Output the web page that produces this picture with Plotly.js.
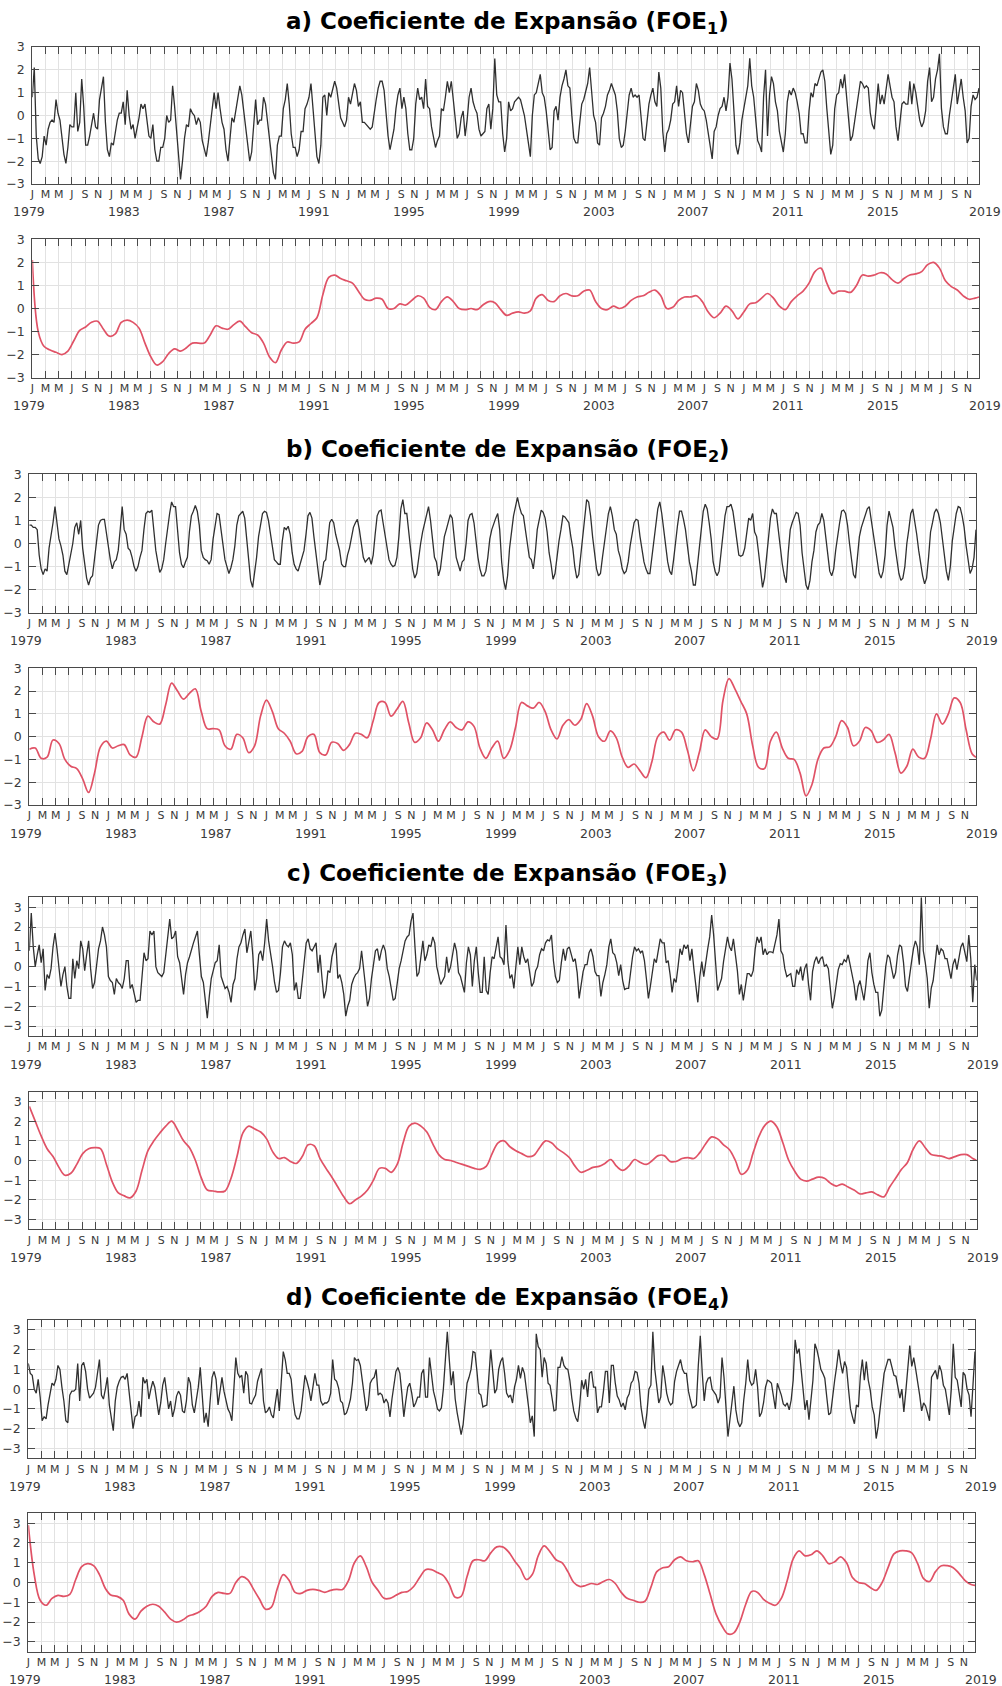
<!DOCTYPE html>
<html><head><meta charset="utf-8">
<script src="https://cdn.plot.ly/plotly-3.0.1.min.js"></script>
<style>html,body{margin:0;padding:0;background:#fff}#chart{width:1002px;height:1686px}</style>
</head><body><div id="chart"></div>
<script>
// ---------- labels ----------
const monthLetters = ['J','M','M','J','S','N'];
const yearLabels = ['1979','1983','1987','1991','1995','1999','2003','2007','2011','2015','2019'];
const titles = [
  'a) Coeficiente de Expansão (FOE<sub>1</sub>)',
  'b) Coeficiente de Expansão (FOE<sub>2</sub>)',
  'c) Coeficiente de Expansão (FOE<sub>3</sub>)',
  'd) Coeficiente de Expansão (FOE<sub>4</sub>)'
];
const yTicks = [-3,-2,-1,0,1,2,3];

// ---------- monthly expansion coefficients, Jan 1979 .. Dec 2018 ----------
const foe1 = [
 0.8, 2.1,-0.9,-1.9,-2.1,-1.8,-0.9,-1.3,-0.6,-0.3,-0.2,-0.3,
 0.7, 0.1,-0.2,-1.0,-1.7,-2.1,-1.4,-0.4,-0.5,-0.5, 1.0,-0.7,
-0.3, 1.6, 0.4,-1.3,-1.3,-0.9,-0.3, 0.1,-0.5,-0.6, 0.7, 1.3,
 1.7,-0.3,-1.5,-1.8,-1.2,-1.3,-0.7,-0.2, 0.1, 0.1, 0.6,-0.4,
 1.1, 0.0,-0.6,-0.4,-1.0,-0.6,-0.1, 0.5, 0.3, 0.5,-0.1,-0.9,
-1.0,-0.4,-1.5,-2.0,-2.0,-1.4,-1.4,-1.0, 0.0,-0.3,-0.2, 1.3,
 0.4,-0.6,-1.5,-2.8,-2.0,-1.0,-0.4,-0.5, 0.3, 0.1, 0.0,-0.4,
-0.1,-0.3,-1.1,-1.5,-1.8,-1.2,-0.4, 0.5, 1.0, 0.3, 1.0, 0.3,
-0.3,-0.6,-1.5,-2.0,-0.9,-0.1,-0.3, 0.3, 0.8, 1.3, 0.9, 0.2,
-0.6,-1.3,-2.0,-1.6,-0.2, 0.7,-0.4,-0.2,-0.2, 0.8, 0.5,-0.3,
-0.9,-2.0,-2.5,-2.8,-1.3,-0.9,-0.9, 0.3, 0.7, 1.4, 0.5,-0.8,
-1.4,-1.4,-1.8,-1.5,-0.7,-0.7, 0.3, 0.5, 0.8, 1.4, 0.3,-0.5,
-1.8,-2.1,-1.3, 0.8, 0.9, 0.0, 1.0, 0.8, 1.1, 1.5, 1.2, 0.6,
-0.1,-0.3,-0.5,-0.2, 0.8, 0.5, 0.9, 1.4, 1.1, 0.4, 0.6,-0.3,
-0.3,-0.4,-0.5,-0.6,-0.5, 0.2, 0.7, 1.2, 1.5, 1.5, 1.1, 0.1,
-0.9,-1.5,-1.1,-0.6, 0.3, 0.9, 1.2, 0.3, 0.8, 0.3,-0.8,-1.5,
-1.5,-1.0, 0.5, 1.2, 0.7, 0.8, 0.3, 1.6, 0.4, 0.3,-0.5,-1.0,
-1.4,-1.1,-0.9, 0.3, 0.2, 0.8, 1.5, 1.0, 1.5, 0.7,-0.3,-1.0,
-0.8,-0.1, 0.2,-0.9,-0.2, 0.8, 1.2, 0.6, 0.3, 0.1,-0.6,-0.9,
-0.8,-0.7, 0.3, 0.5,-0.6, 0.3, 2.5, 0.9, 0.6, 0.6,-0.8,-1.6,
-1.0, 0.6, 0.2, 0.3, 0.6, 0.7, 0.8, 0.7, 0.3, 0.0,-0.6,-1.3,
-1.8, 0.0, 0.9, 1.0, 1.4, 1.8, 1.0, 0.8, 0.2,-0.7,-1.5,-1.4,
 0.2, 0.4,-0.2, 0.8, 1.3, 1.6, 2.0, 1.3, 1.2, 0.0,-1.0,-1.2,
-1.2,-0.3, 0.5, 0.7, 1.0, 1.4, 2.1, 1.2, 0.0,-0.3,-1.2,-1.3,
-0.1, 0.1, 0.4, 0.9, 1.1, 1.4, 1.1, 0.9, 0.2,-1.0,-1.4,-1.3,
-0.7, 0.2, 0.9, 1.2, 0.8, 0.9, 0.8, 0.9,-0.2,-1.0,-1.1,-0.2,
 0.5, 0.9, 1.2, 0.6, 0.4, 1.9, 1.2,-0.7,-1.6,-0.8,-0.6,-0.2,
 0.5, 0.6, 1.3, 0.4, 1.1, 1.0, 0.2,-0.8,-1.2,-0.3, 0.4, 0.6,
 1.4, 1.1, 0.5, 0.3, 0.2,-0.2,-0.8,-1.5,-1.9,-0.7,-0.5, 0.0,
 0.3, 0.4, 0.8, 0.2, 0.8, 2.3, 1.6, 0.2,-1.3,-1.7,-1.2,-0.2,
 0.3, 0.7, 1.3, 2.5, 1.3, 0.8,-0.2,-1.1,-1.3,-1.6, 0.8, 2.0,
-0.9, 0.9, 1.7, 1.4, 0.6, 0.2,-0.7,-1.1,-1.6,-0.8, 0.6, 1.1,
 0.9, 1.2, 1.0, 0.6, 0.1,-0.8,-0.8,-1.2,-1.2, 0.2, 1.0, 0.8,
 1.4, 1.3, 1.6, 1.9, 2.0, 1.5, 0.3,-0.8,-1.7,-1.3, 0.3, 0.9,
 1.0, 1.6, 1.2, 1.8, 0.9,-0.1,-1.1,-0.9,-0.3, 0.3, 0.7, 1.5,
 1.4, 1.2, 1.3, 1.2, 0.1,-0.4,-0.6, 0.4, 1.4, 0.5, 0.9, 0.5,
 1.2, 1.8, 1.3, 0.8, 0.6,-0.5,-1.1,-0.3, 0.5, 0.6, 0.5, 0.5,
 1.5, 0.5, 1.4, 1.0, 0.3,-0.2,-0.5,-0.3, 0.2, 1.5, 2.1, 0.6,
 0.8, 1.6, 2.0, 2.7, 0.3,-0.5,-0.8,-0.8, 0.0, 0.6, 1.0, 1.8,
 0.5, 1.0, 1.6, 0.8, 0.2,-1.2,-1.0, 0.4, 0.9, 0.7, 0.8, 1.2
];
const foe2 = [
 0.8, 0.8, 0.7, 0.7, 0.6,-0.5,-1.1,-1.35,-1.1,-1.2,-0.2, 0.3,
 0.9, 1.6, 0.9, 0.2,-0.1,-0.5,-1.2,-1.35,-0.9,-0.5, 0.0, 0.7,
 0.9, 0.4, 1.0,-0.2,-0.8,-1.5,-1.8,-1.5,-1.4,-0.6, 0.1, 0.8,
 1.0, 1.05, 1.05, 0.4,-0.3,-0.7,-1.1,-0.8,-0.7,-0.3, 0.6, 1.6,
 0.6, 0.4,-0.2,-0.3,-0.6,-1.0,-1.2,-1.0,-0.6,-0.3, 0.6, 1.3,
 1.4, 1.35, 1.45, 0.6,-0.3,-0.8,-1.25,-1.1,-0.7, 0.0, 0.8, 1.3,
 1.8, 1.6, 1.6, 0.6,-0.4,-0.9,-1.05,-0.8,-0.6, 0.5, 1.2, 1.4,
 1.65, 1.4, 0.8,-0.3,-0.6,-0.7,-0.75,-0.9,-0.7, 0.2, 0.8, 1.3,
 1.25, 0.6,-0.2,-0.7,-1.0,-1.3,-1.05,-0.7,-0.1, 0.8, 1.2, 1.3,
 1.4, 1.1, 0.2,-0.8,-1.6,-1.9,-1.3,-0.6, 0.3, 0.8, 1.3, 1.4,
 1.35, 1.0, 0.4,-0.2,-0.7,-0.8,-0.9,-0.9, 0.1, 0.7, 0.6, 0.75,
 0.4,-0.4,-0.9,-1.1,-1.2,-0.9,-0.6,-0.3, 0.4, 1.2, 1.35, 1.1,
 0.3,-0.5,-1.2,-1.8,-1.4,-0.8,-0.7, 0.2, 0.9, 1.05, 0.9, 0.4,
 0.0,-0.3,-0.9,-1.0,-1.0,-0.5,-0.2, 0.3, 0.7, 0.9, 1.05, 0.6,
 0.0,-0.6,-0.8,-0.7,-0.6,-0.9,-0.5, 0.4, 1.2, 1.4, 1.45, 0.9,
 0.3,-0.3,-0.7,-0.9,-1.0,-0.95,-0.6, 0.3, 1.5, 1.9, 1.3, 1.3,
 0.6,-0.3,-1.1,-1.5,-1.3,-0.6, 0.0, 0.5, 0.9, 1.3, 1.6, 1.0,
 0.2,-0.6,-0.8,-1.4,-1.1,-0.4, 0.3, 0.6, 0.9, 1.25, 1.1, 0.2,
-0.6,-0.9,-1.2,-0.8,-0.7, 0.0, 1.0, 1.25, 1.3, 0.9, 0.0,-0.6,
-1.1,-1.4,-1.4,-1.2,-0.6, 0.2, 0.6, 0.9, 1.1, 1.3, 0.6,-0.8,
-1.6,-2.0,-1.4,-0.2, 0.6, 1.2, 1.6, 2.0, 1.6, 1.3, 1.2, 0.5,
 0.0,-0.6,-0.7,-1.1,-0.4, 0.6, 1.1, 1.45, 1.35, 1.1, 0.5,-0.4,
-0.9,-1.55,-1.3,-0.5, 0.1, 0.6, 1.2, 1.15, 1.0, 0.9, 0.3,-0.2,
-1.0,-1.5,-1.35,-0.6, 0.3, 1.0, 1.9, 1.8, 1.2, 0.3,-0.3,-1.1,
-1.4,-1.3,-0.6, 0.1, 0.6, 1.3, 1.6, 1.2, 0.6, 0.4,-0.3,-0.6,
-1.1,-1.3,-1.2,-0.8,-0.1, 0.5, 0.9, 1.05, 1.0, 0.3,-0.3,-0.8,
-1.1,-1.3,-1.3,-0.6, 0.1, 0.9, 1.5, 1.8, 1.3, 0.6,-0.2,-0.8,
-1.2,-1.35,-0.7, 0.2, 0.8, 1.4, 1.4, 1.05, 0.6,-0.1,-0.8,-1.2,
-1.8,-1.8,-1.0, 0.0, 0.9, 1.4, 1.7, 1.5, 0.9, 0.2,-0.8,-1.2,
-1.4,-1.2,-0.4, 0.4, 1.2, 1.6, 1.6, 1.7, 1.4, 0.8, 0.0,-0.5,
-0.55,-0.5,-0.2, 0.4, 1.1, 1.0, 1.3, 0.5, 0.3,-0.4,-1.3,-1.9,
-1.5,-0.6, 0.2, 1.1, 1.5, 1.3, 1.3, 0.5,-0.1,-0.9,-1.4,-1.7,
-0.4, 0.6, 0.9, 1.1, 1.35, 1.3, 0.8,-0.4,-1.2,-1.8,-2.0,-1.6,
-0.8,-0.3, 0.5, 0.8, 0.9, 1.3, 1.0, 0.2,-0.6,-1.2,-1.4,-1.1,
-0.3, 0.4, 0.9, 1.4, 1.45, 1.3, 0.8, 0.0,-0.8,-1.35,-1.5,-0.7,
 0.3, 0.7, 1.0, 1.25, 1.5, 1.6, 1.0, 0.5,-0.2,-0.9,-1.3,-1.5,
-1.2,-0.5, 0.8, 1.4, 1.0, 0.7,-0.1,-0.8,-1.3,-1.6,-1.5,-1.0,
 0.0, 0.6, 1.3, 1.5, 1.0, 0.4,-0.3,-0.9,-1.4,-1.75,-1.5,-0.6,
 0.5, 0.9, 1.35, 1.5, 1.3, 0.9, 0.1,-0.7,-1.2,-1.6,-1.0, 0.1,
 0.7, 1.3, 1.6, 1.55, 1.2, 0.7,-0.1,-0.8,-1.3,-1.1,-0.6, 0.6
];
const foe3 = [
 0.8, 2.7, 1.0, 0.0, 0.6, 1.1, 0.2, 0.9,-1.2,-0.4,-0.6,-0.1,
 1.0, 1.7, 0.9, 0.0,-1.0,-0.4, 0.0,-1.0,-1.6,-1.6, 0.4,-0.6,
 0.3,-0.1, 1.3, 0.9,-0.2, 0.6, 1.3,-0.1,-1.1,-0.8, 0.0, 0.9,
 1.3, 2.0, 1.6, 1.0,-0.5,-0.7,-0.8,-1.4,-0.6,-0.8,-0.9,-1.1,
-0.6, 0.3, 0.3,-1.1,-0.9,-1.3,-1.8,-1.7,-1.7,-0.5, 0.7, 0.3,
 0.4, 1.8, 1.6, 1.8, 0.0,-0.3,-0.4,-0.5,-0.3, 0.5, 1.6, 2.4,
 1.4, 1.5, 1.8, 0.5, 0.2,-0.6,-1.4,-0.4, 0.2, 0.5, 0.9, 1.2,
 1.5, 1.8, 0.6,-0.5,-0.8,-1.8,-2.6,-1.5,-0.6,-0.2, 0.2, 0.3,
 1.1,-0.5,-0.8,-1.1,-1.0,-1.3,-1.8,-0.9,-0.6, 0.4, 1.0, 1.2,
 1.6, 1.9, 0.7, 1.2, 1.8, 0.6,-1.2,-0.6, 0.6, 0.8, 0.3, 1.2,
 2.4, 1.3, 0.7, 0.0,-0.8,-1.3,-1.2,-0.3, 1.0, 1.3, 1.1, 1.0,
 1.2, 0.6,-1.2,-0.8,-1.6,-1.6,-0.7, 0.3, 1.2, 1.4, 0.9, 0.8,
 1.0, 1.2,-0.3, 0.6,-0.6,-1.6,-1.2,-0.2,-0.3, 0.5, 0.9, 1.2,
-0.6,-0.4,-0.8,-1.4,-2.5,-2.0,-1.7,-0.9,-0.6,-0.4,-0.3,-0.1,
 0.8,-0.3,-1.0,-2.0,-1.6,-0.6, 0.2, 0.8, 0.9, 0.3, 0.8, 1.1,
 0.8,-0.1,-0.5,-1.2,-1.7,-1.6,-0.8,-0.1, 0.3, 0.9, 1.3, 1.5,
 1.6, 2.3, 2.7, 1.0,-0.5,-0.3, 0.4, 1.3, 0.3, 0.6, 1.1, 1.0,
 1.5, 1.2, 0.0,-0.5,-0.9,-0.7,-0.5, 0.5,-0.3, 0.0, 0.7, 1.2,
 0.8,-0.3,-0.5,-0.9,-1.3, 0.2, 1.0, 0.6,-1.0, 0.3, 1.0,-0.3,
-1.3,-1.3, 0.5,-1.2,-1.4,-0.3, 0.5, 0.4, 1.0, 1.5, 0.5, 0.4,
 0.1, 2.1, 0.25,-0.6,-0.4,-1.1, 0.0, 1.0, 0.1, 1.0, 0.5, 0.2,
 0.4,-0.2,-1.0,-0.8,-0.2, 0.0, 0.6, 0.9, 0.8, 1.2, 1.35, 1.3,
 1.6, 0.3,-0.5,-0.8,-0.7, 0.2, 0.9, 0.3, 0.9, 1.0, 0.6, 0.25,
 0.4,-0.3,-1.6,-0.9,-0.25, 0.1, 0.1, 0.7, 0.9, 0.5,-0.25,-0.45,
-0.45,-1.5,-0.8,-0.4, 0.1, 1.0, 1.4, 0.7, 0.6, 0.2,-0.45, 0.1,
-0.7,-1.15,-1.1,-1.1,-0.2, 0.5, 1.0, 0.8, 0.9, 0.7, 0.8, 0.3,
-0.6,-1.6,-1.0,-0.4, 0.4, 0.2, 0.9, 1.4, 1.2, 1.2, 0.2, 0.3,
-0.4,-1.3,-0.6,-0.8, 0.0, 0.9, 0.6, 1.1, 0.9, 1.1, 0.3, 0.9,
-0.1,-1.0,-1.8,-0.5, 0.25,-0.5, 0.3, 0.9, 1.5, 2.6, 1.6, 0.2,
-1.2,-0.9,-0.6, 0.25, 0.9, 1.5, 1.0, 0.8, 1.4, 0.6,-0.2,-1.4,
-0.9,-1.7,-0.9,-0.35,-0.35,-0.5,-0.2, 0.9, 1.5, 1.2, 1.5, 0.6,
 0.9, 0.6, 0.75, 0.75, 0.7, 1.2, 1.6, 2.4, 0.8, 0.6,-0.1,-0.5,
-0.4,-0.35,-1.0,-1.0,-0.15,-0.4, 0.0,-0.7,-0.1, 0.15,-0.9,-1.7,
-0.25, 0.25, 0.5, 0.15, 0.4, 0.5, 0.0, 0.1,-0.1,-1.1,-2.1,-1.6,
-0.85,-0.15, 0.15, 0.1, 0.35, 0.25, 0.6, 0.1,-0.55,-0.9,-1.7,-1.0,
-0.7,-1.3,-1.7,-0.9, 0.3, 0.7,-0.3,-0.9,-1.3,-1.3,-2.5,-2.2,
-0.9, 0.0, 0.6, 0.45,-0.1,-0.6,-0.3, 0.6, 1.1, 1.0, 0.2,-1.0,
-1.25,-0.4, 0.2, 0.9, 1.3, 1.0, 0.1, 3.5, 0.8, 0.2,-0.6,-2.1,
-1.1,-0.7, 0.3, 1.1, 0.6, 0.9, 0.8, 0.4, 0.4,-0.2,-0.6, 0.1,
 0.4,-0.15, 0.4, 1.0, 1.2, 0.7, 0.25, 1.6, 0.4,-1.8, 0.1,-0.7
];
const foe4 = [
 1.3, 0.8, 0.7, 0.0,-0.2, 0.5,-0.4,-1.6,-1.4,-1.5,-0.8,-0.3,
 0.3, 0.2, 0.5, 1.2, 1.0, 0.1,-0.6,-1.6,-1.7,-0.3,-0.1,-0.1,
 0.0, 1.3,-0.6, 1.2, 1.35, 0.9, 0.0,-0.45,-0.3,-0.2, 0.1, 0.9,
 1.5,-0.3,-0.5, 0.0, 0.6,-0.8,-1.4,-2.1,-0.6, 0.1, 0.4, 0.6,
 0.65, 0.5, 0.8,-0.1,-1.2,-2.0,-1.4,-1.3,-0.6,-1.4, 0.6, 0.3,
 0.5,-0.5, 0.0, 0.4, 0.1,-0.7,-1.3,-0.7, 0.2, 0.6,-0.1,-1.0,
-0.6,-1.4,-1.0,-0.35,-0.1,-0.3,-1.1,-1.2,-0.6, 0.6, 0.3,-0.8,
-1.2,-0.6, 0.1, 1.1,-0.2,-1.7,-1.2,-1.9,-0.6, 0.6, 0.9, 0.5,
-0.8,-0.2, 0.6,-0.1,-0.5,-1.0,-1.2,-1.6, 0.0, 1.6, 0.8, 0.6,
 0.7,-0.2, 0.9, 0.7,-0.7,-0.75,-0.5,-0.3, 0.4, 0.8, 1.05,-0.6,
-1.2,-1.1,-0.9,-1.3,-1.45,-0.7, 0.0,-1.1, 0.3, 1.9, 1.5, 0.8,
 0.8, 0.5,-0.6,-1.3,-1.5,-1.5,-1.1,-0.2, 0.7, 0.4, 0.0,-0.6,
 0.2, 0.8, 0.2, 0.2,-0.6,-0.8,-0.7,-0.7,-0.6,-0.2, 1.5, 0.5,
 0.4, 0.05,-0.6,-0.7,-1.3,-1.2,-0.9,-0.5, 0.3, 1.6, 1.45, 1.5,
 1.2, 0.5,-0.4,-1.1,-0.8, 0.3, 0.5, 0.6, 1.0,-0.3,-0.2,-0.3,
-0.7,-0.5,-0.7,-1.4,-0.5, 0.3, 0.9, 1.1, 0.8,-0.2,-1.4,-0.6,
 0.1, 0.3,-0.2,-0.9,-0.7,-0.4,-0.4, 0.8, 1.0,-0.4,-0.4, 1.6,
 0.6,-0.1,-0.5,-1.0,-1.1,-0.95, 0.0, 1.5, 2.9, 1.5, 0.2, 0.9,
-0.5,-1.2,-1.7,-2.3,-1.8,-0.8, 0.3, 0.6, 1.0, 1.9, 1.85, 0.9,
-0.2,-0.3,-0.9,-0.85,-0.8, 0.6, 2.0, 0.9,-0.2, 0.0, 1.0, 1.4,
 1.6, 0.8,-0.2,-0.4,-0.3,-0.7, 0.1, 0.5, 1.2, 0.55, 1.1, 0.8,
 0.1,-0.8,-1.7,-1.35,-2.4, 2.8, 2.15, 2.0, 0.6, 1.6, 1.3, 0.3,
 0.2,-0.4,-1.1,-1.05, 1.1, 1.1, 1.65, 1.2, 1.05, 1.0, 0.45,-0.45,
-1.1,-1.45,-1.65,-0.8, 0.45, 0.0, 0.5,-0.4, 0.8, 0.9, 0.1, 0.1,
-1.2,-0.9,-0.9,-0.1, 0.9, 0.9,-0.7, 1.2, 1.2, 0.3,-0.35,-0.55,
-0.9,-0.7,-1.05,-0.45,-0.25, 0.3, 0.45, 0.9, 0.85, 0.3,-0.9,-1.55,
-2.0,-1.2, 0.0, 0.2, 2.9, 1.0, 0.0,-0.7,-0.4, 1.2, 0.6,-0.2,
-0.6,-0.8,-0.7, 0.4, 0.9, 1.2, 1.5, 1.0, 0.8, 0.8,-0.1,-0.55,
-0.95,-0.9,-0.8, 1.2, 2.7, 0.8,-0.6, 0.3, 0.55, 0.6, 0.0,-0.15,
-0.3,-0.7,-0.4, 1.6, 0.6,-0.9,-2.4,-1.55,-0.7, 0.15,-1.05,-1.65,
-1.9,-1.7,-0.55, 0.3, 1.5, 0.45, 0.2, 0.3, 1.0, 0.1,-1.4,-1.2,
-0.7, 0.1, 0.45, 0.4, 0.3,-0.4,-1.0, 0.3, 0.0,-0.3,-0.75,-0.85,
-0.7,-1.05,-0.55, 0.45, 2.5, 1.8, 2.05, 1.15, 0.0,-1.05,-0.55,-1.55,
-0.55, 0.45, 2.3, 2.0, 1.55, 1.0, 0.8, 0.55,-0.4,-1.3,-1.2,-0.2,
 0.45, 1.15, 2.0, 1.3, 0.8, 1.4, 1.1, 0.0,-1.0,-1.4,-1.75,-0.8,
-0.9, 0.65, 1.5, 0.45, 1.4, 0.45,-0.05,-0.9,-1.3,-2.5,-1.9,-1.0,
 0.1, 0.8, 1.15, 1.5, 1.5, 1.05, 0.7, 0.65, 0.0,-0.45, 0.0,-1.15,
-0.1, 1.3, 2.2, 1.15, 1.6, 1.0, 0.45,-0.3,-1.1,-0.7,-0.85,-1.3,
-1.6, 0.6, 0.8, 0.95, 0.5, 1.2, 0.9, 0.2, 0.0,-0.65,-1.3, 0.0,
 2.3, 0.6, 0.45,-0.2,-0.9, 0.85, 0.7, 0.0,-0.3,-1.4, 0.3, 1.9
];

// ---------- smoothed (low-pass) coefficients, every 3 months + last month ----------
const foe1s = [
 2.1,-1.0,-1.65,-1.8,-1.9,-2.0,-1.85,-1.4,-0.95,-0.8,-0.6,-0.55,-0.9,-1.2,-1.1,-0.6,-0.5,-0.6,-0.85,-1.5,
-2.1,-2.45,-2.3,-1.95,-1.75,-1.85,-1.7,-1.5,-1.5,-1.5,-1.15,-0.75,-0.85,-0.9,-0.7,-0.55,-0.8,-1.05,-1.15,-1.5,
-2.1,-2.35,-1.8,-1.45,-1.5,-1.45,-0.9,-0.65,-0.4, 0.6, 1.35, 1.45, 1.3, 1.2, 1.1, 0.75, 0.4, 0.35, 0.45, 0.4,
 0.0, 0.0, 0.2, 0.15, 0.35, 0.55, 0.45, 0.05,-0.05, 0.3, 0.5, 0.3, 0.0,-0.05, 0.0,-0.05, 0.15, 0.3, 0.25,-0.05,
-0.3,-0.2,-0.15,-0.2,-0.1, 0.45, 0.6, 0.35, 0.3, 0.55, 0.65, 0.55, 0.55, 0.75, 0.8, 0.3, 0.0,-0.05, 0.1, 0.0,
 0.1, 0.35, 0.5, 0.55, 0.7, 0.8, 0.55, 0.0, 0.05, 0.35, 0.5, 0.5, 0.55, 0.3,-0.15,-0.4,-0.2, 0.1,-0.1,-0.45,
-0.15, 0.2, 0.25, 0.45, 0.65, 0.45, 0.1,-0.05, 0.3, 0.55, 0.75, 1.1, 1.6, 1.75, 1.1, 0.65, 0.75, 0.75, 0.7, 1.0,
 1.45, 1.4, 1.45, 1.55, 1.5, 1.25, 1.1, 1.3, 1.45, 1.5, 1.6, 1.9, 2.0, 1.75, 1.2, 0.95, 0.8, 0.55, 0.4, 0.45,
 0.5
];
const foe2s = [
-0.55,-0.5,-0.95,-0.9,-0.15,-0.3,-1.0,-1.3,-1.4,-1.85,-2.45,-1.6,-0.45,-0.2,-0.5,-0.4,-0.35,-0.8,-0.9, 0.0,
 0.9, 0.65, 0.55, 1.4, 2.35, 2.0, 1.65, 1.9, 2.1, 1.1, 0.35, 0.35, 0.3,-0.4,-0.55, 0.1,-0.05,-0.7,-0.4, 0.9,
 1.6, 1.1, 0.35, 0.15,-0.2,-0.75,-0.65, 0.0, 0.1,-0.7,-0.8,-0.25,-0.3,-0.6,-0.35, 0.15, 0.1,-0.05, 0.7, 1.5,
 1.5, 0.9, 1.2, 1.55, 0.6,-0.25,-0.05, 0.6, 0.3,-0.2, 0.3, 0.65, 0.4, 0.3, 0.65, 0.45,-0.5,-0.95,-0.5,-0.2,
-0.95,-0.6, 0.4, 1.5, 1.35, 1.25, 1.5, 1.1, 0.3,-0.1, 0.5, 0.75, 0.5, 0.75, 1.45, 0.9, 0.0,-0.2, 0.25,-0.05,
-0.9,-1.35,-1.2,-1.5,-1.8,-1.1, 0.0, 0.2,-0.15, 0.3, 0.2,-0.6,-1.5,-0.7, 0.3, 0.0,-0.1, 1.6, 2.55, 2.1,
 1.55, 1.0,-0.4,-1.35,-1.4,-0.2, 0.2,-0.5,-0.95,-1.0,-1.6,-2.6,-2.1,-1.0,-0.5,-0.45, 0.0, 0.7, 0.4,-0.4,
-0.2, 0.4, 0.25,-0.25,-0.15, 0.1,-0.7,-1.6,-1.3,-0.55,-0.9,-0.95,-0.1, 1.0, 0.55, 1.0, 1.7, 1.5, 0.3,-0.75,
-0.9
];
const foe3s = [
 2.75, 2.0, 1.25, 0.6, 0.2,-0.35,-0.75,-0.65,-0.2, 0.35, 0.6, 0.65, 0.6,-0.2,-1.1,-1.65,-1.8,-1.9,-1.55,-0.5,
 0.5, 1.0, 1.4, 1.75, 2.0, 1.55, 1.0, 0.65, 0.0,-0.9,-1.5,-1.55,-1.6,-1.55,-0.9, 0.2, 1.4, 1.75, 1.6, 1.45,
 1.1, 0.45, 0.1, 0.15,-0.05,-0.15, 0.2, 0.8, 0.75, 0.1,-0.4,-0.85,-1.35,-1.85,-2.2,-2.0,-1.8,-1.5,-1.0,-0.4,
-0.4,-0.6,-0.2, 0.9, 1.75, 1.9, 1.75, 1.45, 0.85, 0.3, 0.05, 0.0,-0.1,-0.2,-0.3,-0.4,-0.45,-0.3, 0.35, 0.9,
 1.0, 0.7, 0.5, 0.35, 0.2, 0.25, 0.65, 1.0, 0.9, 0.6, 0.4, 0.15,-0.3,-0.6,-0.5,-0.35,-0.3,-0.15, 0.05,-0.3,
-0.5,-0.3, 0.05,-0.1,-0.2, 0.0, 0.25, 0.25,-0.05,-0.05, 0.1, 0.15, 0.1, 0.4, 0.85, 1.2, 1.1, 0.8, 0.55, 0.0,
-0.7,-0.5, 0.4, 1.25, 1.8, 2.0, 1.7, 0.9, 0.0,-0.55,-0.95,-1.05,-0.95,-0.85,-0.9,-1.15,-1.3,-1.2,-1.35,-1.5,
-1.7,-1.65,-1.6,-1.75,-1.85,-1.35,-0.9,-0.45,-0.1, 0.6, 1.0, 0.65, 0.3, 0.25, 0.2, 0.1, 0.2, 0.3, 0.3, 0.1,
 0.0
];
const foe4s = [
 2.9, 0.4,-0.9,-1.15,-0.8,-0.65,-0.7,-0.6, 0.15, 0.8, 0.95, 0.85, 0.4,-0.3,-0.65,-0.7,-0.9,-1.6,-1.85,-1.45,
-1.2,-1.1,-1.2,-1.5,-1.85,-2.0,-1.9,-1.7,-1.6,-1.45,-1.2,-0.7,-0.5,-0.55,-0.55, 0.0, 0.3, 0.15,-0.35,-0.85,
-1.35,-1.25,-0.3, 0.4, 0.1,-0.5,-0.55,-0.4,-0.35,-0.4,-0.5,-0.4,-0.35,-0.35, 0.1, 1.0, 1.35, 0.8, 0.0,-0.4,
-0.8,-0.8,-0.65,-0.5,-0.45,-0.2, 0.25, 0.65, 0.65, 0.5, 0.35,-0.1,-0.75,-0.7, 0.3, 1.1, 1.15, 1.1, 1.5, 1.8,
 1.8, 1.55, 1.1, 0.7, 0.15, 0.4, 1.35, 1.85, 1.55, 1.15, 1.0, 0.55, 0.0,-0.2,-0.15,-0.05,-0.1, 0.05, 0.15,-0.05,
-0.5,-0.8,-0.9,-1.0,-0.95,-0.25, 0.55, 0.75, 0.8, 1.15, 1.3, 1.1, 1.05, 1.1, 0.4,-0.6,-1.6,-2.2,-2.6,-2.55,
-2.0,-1.1,-0.45,-0.5,-0.85,-1.05,-1.15,-0.8, 0.1, 1.2, 1.6, 1.35, 1.4, 1.6, 1.35, 0.95, 1.05, 1.3, 1.0, 0.25,
 0.0,-0.05,-0.25,-0.4, 0.0, 0.75, 1.45, 1.6, 1.6, 1.5, 0.95, 0.2, 0.05, 0.55, 0.85, 0.85, 0.75, 0.45, 0.1,-0.1,
-0.15
];

// ---------- layout geometry (pixels) ----------
const W = 1002, H = 1686;
const boxes = [
  [32.3, 979, 47, 184], [32.3, 979, 239.3, 377.7],
  [29.3, 976, 474.3, 612.7], [29.3, 976, 668.3, 805],
  [29.3, 976.7, 897.3, 1036], [29.3, 976.7, 1091.7, 1229.3],
  [28.3, 975, 1320, 1458.3], [28.3, 975, 1513.3, 1651.7]
];
const titleY = [23, 451, 875, 1299];
const yLim = [3, 3, 3, 3, 3.5, 3.5, 3.5, 3.5];
const seriesList = [foe1, foe1s, foe2, foe2s, foe3, foe3s, foe4, foe4s];

const lastMonth = 479;
const tickPos = Array.from({length: 72}, (_, k) => k * 20 / 3);
const tickTxt = tickPos.map((_, k) => monthLetters[k % 6]);

const FONT = 'DejaVu Sans, Verdana, sans-serif';
const AX = '#4a4a4a', GRID = '#e2e2e2', TXT = '#3a3a3a';

const traces = [];
const layout = {
  width: W, height: H, margin: {l: 0, r: 0, t: 0, b: 0},
  paper_bgcolor: '#fff', plot_bgcolor: '#fff', showlegend: false,
  font: {family: FONT, color: TXT},
  annotations: []
};

seriesList.forEach((vals, i) => {
  const n = i + 1, sfx = n === 1 ? '' : String(n);
  const smooth = i % 2 === 1;
  const xs = smooth ? vals.map((_, j) => Math.min(3 * j, lastMonth)) : vals.map((_, j) => j);
  traces.push({
    x: xs, y: vals, xaxis: 'x' + sfx, yaxis: 'y' + sfx, type: 'scatter', mode: 'lines',
    line: smooth ? {color: '#e05266', width: 1.7, shape: 'spline', smoothing: 1}
                 : {color: '#303030', width: 1.3},
    hoverinfo: 'skip'
  });
  const [l, r, t, b] = boxes[i];
  layout['xaxis' + sfx] = {
    domain: [l / W, r / W], anchor: 'y' + sfx, range: [0, lastMonth],
    tickmode: 'array', tickvals: tickPos, ticktext: tickTxt,
    ticks: 'inside', ticklen: 7, tickwidth: 1, tickcolor: AX,
    showline: true, linecolor: AX, linewidth: 1, mirror: 'ticks',
    showgrid: true, gridcolor: GRID, gridwidth: 1, zeroline: false,
    tickfont: {family: FONT, size: 11, color: TXT}, fixedrange: true
  };
  layout['yaxis' + sfx] = {
    domain: [1 - b / H, 1 - t / H], anchor: 'x' + sfx, range: [-yLim[i], yLim[i]],
    tickmode: 'array', tickvals: yTicks,
    ticks: 'inside', ticklen: 7, tickwidth: 1, tickcolor: AX,
    showline: true, linecolor: AX, linewidth: 1, mirror: 'ticks',
    showgrid: true, gridcolor: GRID, gridwidth: 1, zeroline: false,
    ticklabelstandoff: 4,
    tickfont: {family: FONT, size: 12.5, color: TXT}, fixedrange: true
  };
  yearLabels.forEach((yl, k) => {
    const last = k === yearLabels.length - 1;
    layout.annotations.push({
      text: yl, xref: 'x' + sfx, yref: 'y' + sfx + ' domain',
      x: last ? lastMonth : 48 * k, y: 0, xanchor: 'center', yanchor: 'middle',
      xshift: last ? 6 : -3, yshift: -28, showarrow: false,
      font: {family: FONT, size: 12.5, color: TXT}
    });
  });
});

titles.forEach((tt, k) => {
  layout.annotations.push({
    text: '<b>' + tt + '</b>', xref: 'paper', yref: 'paper',
    x: 508 / W, y: 1 - titleY[k] / H, xanchor: 'center', yanchor: 'middle',
    showarrow: false, font: {family: FONT, size: 23, color: '#000'}
  });
});

const lens = [foe1, foe2, foe3, foe4].map(a => a.length).concat([foe1s, foe2s, foe3s, foe4s].map(a => a.length));
if (lens.slice(0, 4).some(v => v !== 480) || lens.slice(4).some(v => v !== 161)) {
  layout.annotations.push({text: 'LEN ' + lens.join(','), xref: 'paper', yref: 'paper', x: 0.5, y: 0.5, showarrow: false, font: {size: 30, color: 'blue'}});
}

Plotly.newPlot('chart', traces, layout, {displayModeBar: false, staticPlot: true});
</script>
</body></html>
